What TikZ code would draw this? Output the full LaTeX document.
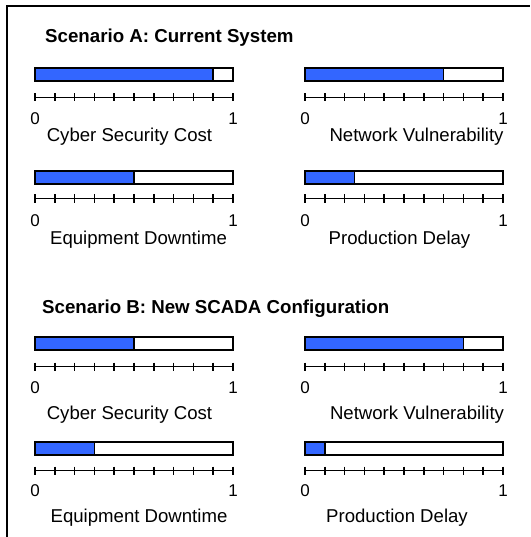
\documentclass[tikz,border=0pt]{standalone}
\usepackage{fontspec}
\setmainfont{Liberation Sans}
\definecolor{barblue}{RGB}{51,102,255}
\newcommand\gauge[9]{%
  \fill[barblue] (#2,#3) rectangle ++(198*#4,13);
  \draw[barline] (#2,#3) rectangle ++(198,13);
  \draw[barline] (#2+198*#4,#3) -- ++(0,13);
  \draw[axisline] (#2,#5) -- ++(198,0);
  \foreach \i in {0,...,10} \draw[axisline] (#2+19.8*\i,#5-4) -- ++(0,8);
  \node[num] (#1-zero) at (#2,#6) {0};
  \node[num] (#1-one) at (#2+198,#6) {1};
  \node[lbl] (#1-label) at (#8,#9) {#7};
}
\begin{document}
\begin{tikzpicture}[x=1pt,y=-1pt,
  barline/.style={line width=1.7pt},
  axisline/.style={line width=1.5pt},
  num/.style={inner sep=0pt,anchor=base,font=\fontsize{17}{17}\selectfont},
  lbl/.style={inner sep=0pt,anchor=base,font=\fontsize{18.6}{18.6}\selectfont},
  ttl/.style={inner sep=0pt,anchor=base west,font=\bfseries\fontsize{18.7}{18.7}\selectfont}]
\useasboundingbox (0,0) rectangle (530,537);
\draw[line width=2pt] (6.5,537) -- (6.5,6) -- (530,6);
\node[ttl] (titleA) at (45,43) {Scenario A: Current System};
\gauge{a1}{35}{68}{0.9}{97.5}{124.5}{Cyber Security Cost}{129.5}{141.5}
\gauge{a2}{305}{68}{0.7}{97.5}{124.5}{Network Vulnerability}{416.5}{141.5}
\gauge{a3}{35}{171}{0.5}{198.5}{226.5}{Equipment Downtime}{138.5}{244.5}
\gauge{a4}{305}{171}{0.25}{198.5}{226.5}{Production Delay}{399.5}{244.5}
\node[ttl] (titleB) at (42,313) {Scenario B: New SCADA Configuration};
\gauge{b1}{35}{337}{0.5}{366.5}{393}{Cyber Security Cost}{129.5}{419}
\gauge{b2}{305}{337}{0.8}{366.5}{393}{Network Vulnerability}{417}{419}
\gauge{b3}{35}{442}{0.3}{470.5}{496}{Equipment Downtime}{139}{522}
\gauge{b4}{305}{442}{0.1}{470.5}{496}{Production Delay}{397}{522.5}
\end{tikzpicture}
\end{document}
